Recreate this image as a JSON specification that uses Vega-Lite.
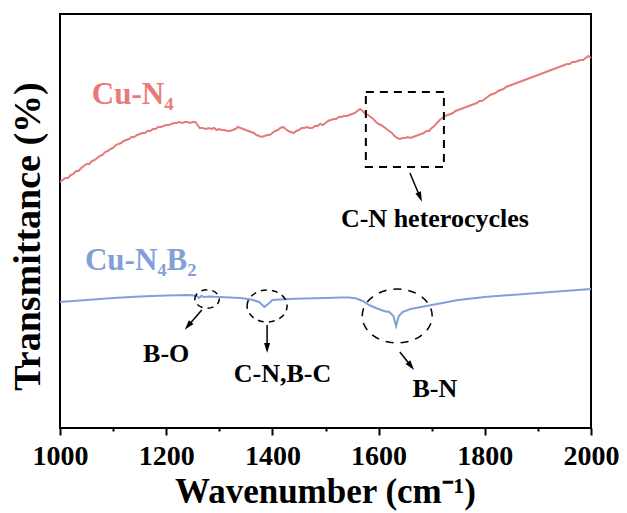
{
  "$schema": "https://vega.github.io/schema/vega-lite/v6.json",
  "autosize": {"type": "none"},
  "padding": {"left": 60, "top": 14, "right": 36, "bottom": 85},
  "width": 531,
  "height": 414,
  "background": "white",
  "config": {
    "view": {"stroke": "black", "strokeWidth": 2},
    "font": "Liberation Serif"
  },
  "datasets": {
    "spectra": [
      {"wn": 1000, "t": 246, "sample": "Cu-N4"}, {"wn": 1005, "t": 248, "sample": "Cu-N4"}, {"wn": 1010, "t": 250, "sample": "Cu-N4"}, {"wn": 1015, "t": 250, "sample": "Cu-N4"}, {"wn": 1020, "t": 253, "sample": "Cu-N4"},
      {"wn": 1025, "t": 254, "sample": "Cu-N4"}, {"wn": 1030, "t": 257, "sample": "Cu-N4"}, {"wn": 1035, "t": 257, "sample": "Cu-N4"}, {"wn": 1040, "t": 260, "sample": "Cu-N4"}, {"wn": 1045, "t": 262, "sample": "Cu-N4"},
      {"wn": 1050, "t": 264, "sample": "Cu-N4"}, {"wn": 1055, "t": 264, "sample": "Cu-N4"}, {"wn": 1060, "t": 267, "sample": "Cu-N4"}, {"wn": 1065, "t": 268, "sample": "Cu-N4"}, {"wn": 1070, "t": 270, "sample": "Cu-N4"},
      {"wn": 1075, "t": 272, "sample": "Cu-N4"}, {"wn": 1080, "t": 273, "sample": "Cu-N4"}, {"wn": 1085, "t": 276, "sample": "Cu-N4"}, {"wn": 1090, "t": 277, "sample": "Cu-N4"}, {"wn": 1095, "t": 279, "sample": "Cu-N4"},
      {"wn": 1100, "t": 280, "sample": "Cu-N4"}, {"wn": 1105, "t": 283, "sample": "Cu-N4"}, {"wn": 1110, "t": 284, "sample": "Cu-N4"}, {"wn": 1115, "t": 285, "sample": "Cu-N4"}, {"wn": 1120, "t": 287, "sample": "Cu-N4"},
      {"wn": 1125, "t": 288, "sample": "Cu-N4"}, {"wn": 1130, "t": 289, "sample": "Cu-N4"}, {"wn": 1135, "t": 291, "sample": "Cu-N4"}, {"wn": 1140, "t": 291, "sample": "Cu-N4"}, {"wn": 1145, "t": 293, "sample": "Cu-N4"},
      {"wn": 1150, "t": 294, "sample": "Cu-N4"}, {"wn": 1155, "t": 295, "sample": "Cu-N4"}, {"wn": 1160, "t": 295, "sample": "Cu-N4"}, {"wn": 1165, "t": 297, "sample": "Cu-N4"}, {"wn": 1170, "t": 297, "sample": "Cu-N4"},
      {"wn": 1175, "t": 299, "sample": "Cu-N4"}, {"wn": 1180, "t": 299, "sample": "Cu-N4"}, {"wn": 1185, "t": 301, "sample": "Cu-N4"}, {"wn": 1190, "t": 301, "sample": "Cu-N4"}, {"wn": 1195, "t": 302, "sample": "Cu-N4"},
      {"wn": 1200, "t": 303, "sample": "Cu-N4"}, {"wn": 1205, "t": 303, "sample": "Cu-N4"}, {"wn": 1210, "t": 304, "sample": "Cu-N4"}, {"wn": 1215, "t": 305, "sample": "Cu-N4"}, {"wn": 1220, "t": 305, "sample": "Cu-N4"},
      {"wn": 1225, "t": 306, "sample": "Cu-N4"}, {"wn": 1230, "t": 305, "sample": "Cu-N4"}, {"wn": 1235, "t": 306, "sample": "Cu-N4"}, {"wn": 1240, "t": 306, "sample": "Cu-N4"}, {"wn": 1245, "t": 305, "sample": "Cu-N4"},
      {"wn": 1250, "t": 306, "sample": "Cu-N4"}, {"wn": 1255, "t": 306, "sample": "Cu-N4"}, {"wn": 1259, "t": 303, "sample": "Cu-N4"}, {"wn": 1263, "t": 300, "sample": "Cu-N4"}, {"wn": 1268, "t": 300, "sample": "Cu-N4"},
      {"wn": 1275, "t": 299, "sample": "Cu-N4"}, {"wn": 1280, "t": 300, "sample": "Cu-N4"}, {"wn": 1285, "t": 299, "sample": "Cu-N4"}, {"wn": 1290, "t": 300, "sample": "Cu-N4"}, {"wn": 1295, "t": 298, "sample": "Cu-N4"},
      {"wn": 1300, "t": 299, "sample": "Cu-N4"}, {"wn": 1305, "t": 298, "sample": "Cu-N4"}, {"wn": 1310, "t": 298, "sample": "Cu-N4"}, {"wn": 1315, "t": 297, "sample": "Cu-N4"}, {"wn": 1320, "t": 297, "sample": "Cu-N4"},
      {"wn": 1325, "t": 298, "sample": "Cu-N4"}, {"wn": 1330, "t": 299, "sample": "Cu-N4"}, {"wn": 1335, "t": 301, "sample": "Cu-N4"}, {"wn": 1340, "t": 300, "sample": "Cu-N4"}, {"wn": 1345, "t": 299, "sample": "Cu-N4"},
      {"wn": 1350, "t": 298, "sample": "Cu-N4"}, {"wn": 1355, "t": 297, "sample": "Cu-N4"}, {"wn": 1360, "t": 296, "sample": "Cu-N4"}, {"wn": 1365, "t": 295, "sample": "Cu-N4"}, {"wn": 1370, "t": 293, "sample": "Cu-N4"},
      {"wn": 1375, "t": 292, "sample": "Cu-N4"}, {"wn": 1380, "t": 291, "sample": "Cu-N4"}, {"wn": 1385, "t": 292, "sample": "Cu-N4"}, {"wn": 1390, "t": 293, "sample": "Cu-N4"}, {"wn": 1395, "t": 293, "sample": "Cu-N4"},
      {"wn": 1400, "t": 295, "sample": "Cu-N4"}, {"wn": 1405, "t": 297, "sample": "Cu-N4"}, {"wn": 1410, "t": 298, "sample": "Cu-N4"}, {"wn": 1415, "t": 300, "sample": "Cu-N4"}, {"wn": 1420, "t": 301, "sample": "Cu-N4"},
      {"wn": 1425, "t": 299, "sample": "Cu-N4"}, {"wn": 1430, "t": 297, "sample": "Cu-N4"}, {"wn": 1435, "t": 296, "sample": "Cu-N4"}, {"wn": 1440, "t": 295, "sample": "Cu-N4"}, {"wn": 1445, "t": 297, "sample": "Cu-N4"},
      {"wn": 1450, "t": 298, "sample": "Cu-N4"}, {"wn": 1455, "t": 300, "sample": "Cu-N4"}, {"wn": 1460, "t": 300, "sample": "Cu-N4"}, {"wn": 1465, "t": 301, "sample": "Cu-N4"}, {"wn": 1470, "t": 300, "sample": "Cu-N4"},
      {"wn": 1475, "t": 300, "sample": "Cu-N4"}, {"wn": 1480, "t": 302, "sample": "Cu-N4"}, {"wn": 1485, "t": 302, "sample": "Cu-N4"}, {"wn": 1490, "t": 304, "sample": "Cu-N4"}, {"wn": 1495, "t": 303, "sample": "Cu-N4"},
      {"wn": 1500, "t": 305, "sample": "Cu-N4"}, {"wn": 1505, "t": 307, "sample": "Cu-N4"}, {"wn": 1510, "t": 308, "sample": "Cu-N4"}, {"wn": 1515, "t": 309, "sample": "Cu-N4"}, {"wn": 1520, "t": 309, "sample": "Cu-N4"},
      {"wn": 1525, "t": 311, "sample": "Cu-N4"}, {"wn": 1530, "t": 311, "sample": "Cu-N4"}, {"wn": 1535, "t": 312, "sample": "Cu-N4"}, {"wn": 1540, "t": 312, "sample": "Cu-N4"}, {"wn": 1545, "t": 313, "sample": "Cu-N4"},
      {"wn": 1550, "t": 314, "sample": "Cu-N4"}, {"wn": 1555, "t": 315, "sample": "Cu-N4"}, {"wn": 1560, "t": 317, "sample": "Cu-N4"}, {"wn": 1565, "t": 319, "sample": "Cu-N4"}, {"wn": 1570, "t": 317, "sample": "Cu-N4"},
      {"wn": 1575, "t": 314, "sample": "Cu-N4"}, {"wn": 1580, "t": 313, "sample": "Cu-N4"}, {"wn": 1585, "t": 311, "sample": "Cu-N4"}, {"wn": 1590, "t": 309, "sample": "Cu-N4"}, {"wn": 1595, "t": 306, "sample": "Cu-N4"},
      {"wn": 1600, "t": 304, "sample": "Cu-N4"}, {"wn": 1605, "t": 303, "sample": "Cu-N4"}, {"wn": 1610, "t": 301, "sample": "Cu-N4"}, {"wn": 1615, "t": 299, "sample": "Cu-N4"}, {"wn": 1620, "t": 297, "sample": "Cu-N4"},
      {"wn": 1625, "t": 295, "sample": "Cu-N4"}, {"wn": 1630, "t": 292, "sample": "Cu-N4"}, {"wn": 1635, "t": 290, "sample": "Cu-N4"}, {"wn": 1640, "t": 289, "sample": "Cu-N4"}, {"wn": 1645, "t": 290, "sample": "Cu-N4"},
      {"wn": 1650, "t": 290, "sample": "Cu-N4"}, {"wn": 1655, "t": 291, "sample": "Cu-N4"}, {"wn": 1660, "t": 290, "sample": "Cu-N4"}, {"wn": 1665, "t": 291, "sample": "Cu-N4"}, {"wn": 1670, "t": 292, "sample": "Cu-N4"},
      {"wn": 1675, "t": 293, "sample": "Cu-N4"}, {"wn": 1680, "t": 294, "sample": "Cu-N4"}, {"wn": 1685, "t": 295, "sample": "Cu-N4"}, {"wn": 1690, "t": 297, "sample": "Cu-N4"}, {"wn": 1695, "t": 297, "sample": "Cu-N4"},
      {"wn": 1700, "t": 300, "sample": "Cu-N4"}, {"wn": 1705, "t": 302, "sample": "Cu-N4"}, {"wn": 1710, "t": 305, "sample": "Cu-N4"}, {"wn": 1715, "t": 308, "sample": "Cu-N4"}, {"wn": 1720, "t": 310, "sample": "Cu-N4"},
      {"wn": 1725, "t": 312, "sample": "Cu-N4"}, {"wn": 1730, "t": 313, "sample": "Cu-N4"}, {"wn": 1735, "t": 314, "sample": "Cu-N4"}, {"wn": 1740, "t": 315, "sample": "Cu-N4"}, {"wn": 1745, "t": 317, "sample": "Cu-N4"},
      {"wn": 1750, "t": 318, "sample": "Cu-N4"}, {"wn": 1755, "t": 319, "sample": "Cu-N4"}, {"wn": 1760, "t": 320, "sample": "Cu-N4"}, {"wn": 1765, "t": 321, "sample": "Cu-N4"}, {"wn": 1770, "t": 322, "sample": "Cu-N4"},
      {"wn": 1775, "t": 323, "sample": "Cu-N4"}, {"wn": 1780, "t": 324, "sample": "Cu-N4"}, {"wn": 1785, "t": 325, "sample": "Cu-N4"}, {"wn": 1790, "t": 327, "sample": "Cu-N4"}, {"wn": 1795, "t": 327, "sample": "Cu-N4"},
      {"wn": 1800, "t": 329, "sample": "Cu-N4"}, {"wn": 1805, "t": 331, "sample": "Cu-N4"}, {"wn": 1810, "t": 333, "sample": "Cu-N4"}, {"wn": 1815, "t": 334, "sample": "Cu-N4"}, {"wn": 1820, "t": 335, "sample": "Cu-N4"},
      {"wn": 1825, "t": 337, "sample": "Cu-N4"}, {"wn": 1830, "t": 338, "sample": "Cu-N4"}, {"wn": 1835, "t": 339, "sample": "Cu-N4"}, {"wn": 1840, "t": 341, "sample": "Cu-N4"}, {"wn": 1845, "t": 342, "sample": "Cu-N4"},
      {"wn": 1850, "t": 343, "sample": "Cu-N4"}, {"wn": 1855, "t": 344, "sample": "Cu-N4"}, {"wn": 1860, "t": 345, "sample": "Cu-N4"}, {"wn": 1865, "t": 346, "sample": "Cu-N4"}, {"wn": 1870, "t": 347, "sample": "Cu-N4"},
      {"wn": 1875, "t": 348, "sample": "Cu-N4"}, {"wn": 1880, "t": 349, "sample": "Cu-N4"}, {"wn": 1885, "t": 350, "sample": "Cu-N4"}, {"wn": 1890, "t": 351, "sample": "Cu-N4"}, {"wn": 1895, "t": 352, "sample": "Cu-N4"},
      {"wn": 1900, "t": 353, "sample": "Cu-N4"}, {"wn": 1905, "t": 354, "sample": "Cu-N4"}, {"wn": 1910, "t": 355, "sample": "Cu-N4"}, {"wn": 1915, "t": 356, "sample": "Cu-N4"}, {"wn": 1920, "t": 357, "sample": "Cu-N4"},
      {"wn": 1925, "t": 358, "sample": "Cu-N4"}, {"wn": 1930, "t": 359, "sample": "Cu-N4"}, {"wn": 1935, "t": 360, "sample": "Cu-N4"}, {"wn": 1940, "t": 361, "sample": "Cu-N4"}, {"wn": 1945, "t": 362, "sample": "Cu-N4"},
      {"wn": 1950, "t": 363, "sample": "Cu-N4"}, {"wn": 1955, "t": 364, "sample": "Cu-N4"}, {"wn": 1960, "t": 364, "sample": "Cu-N4"}, {"wn": 1965, "t": 366, "sample": "Cu-N4"}, {"wn": 1970, "t": 366, "sample": "Cu-N4"},
      {"wn": 1975, "t": 367, "sample": "Cu-N4"}, {"wn": 1980, "t": 368, "sample": "Cu-N4"}, {"wn": 1985, "t": 368, "sample": "Cu-N4"}, {"wn": 1990, "t": 370, "sample": "Cu-N4"}, {"wn": 1995, "t": 372, "sample": "Cu-N4"},
      {"wn": 2000, "t": 370, "sample": "Cu-N4"},

      {"wn": 1000, "t": 126, "sample": "Cu-N4B2"}, {"wn": 1050, "t": 128, "sample": "Cu-N4B2"}, {"wn": 1100, "t": 130, "sample": "Cu-N4B2"},
      {"wn": 1150, "t": 131.5, "sample": "Cu-N4B2"}, {"wn": 1200, "t": 132.5, "sample": "Cu-N4B2"}, {"wn": 1240, "t": 133, "sample": "Cu-N4B2"},
      {"wn": 1255, "t": 132.5, "sample": "Cu-N4B2"}, {"wn": 1262, "t": 130, "sample": "Cu-N4B2"}, {"wn": 1266, "t": 132, "sample": "Cu-N4B2"},
      {"wn": 1272, "t": 131, "sample": "Cu-N4B2"}, {"wn": 1280, "t": 131.5, "sample": "Cu-N4B2"}, {"wn": 1300, "t": 131, "sample": "Cu-N4B2"},
      {"wn": 1340, "t": 130, "sample": "Cu-N4B2"}, {"wn": 1360, "t": 128.5, "sample": "Cu-N4B2"}, {"wn": 1375, "t": 126, "sample": "Cu-N4B2"},
      {"wn": 1385, "t": 121, "sample": "Cu-N4B2"}, {"wn": 1392, "t": 124, "sample": "Cu-N4B2"}, {"wn": 1400, "t": 128, "sample": "Cu-N4B2"},
      {"wn": 1430, "t": 129, "sample": "Cu-N4B2"}, {"wn": 1460, "t": 129.5, "sample": "Cu-N4B2"}, {"wn": 1500, "t": 130, "sample": "Cu-N4B2"},
      {"wn": 1530, "t": 130.5, "sample": "Cu-N4B2"}, {"wn": 1545, "t": 130.5, "sample": "Cu-N4B2"}, {"wn": 1558, "t": 129.5, "sample": "Cu-N4B2"},
      {"wn": 1570, "t": 127, "sample": "Cu-N4B2"}, {"wn": 1582, "t": 123, "sample": "Cu-N4B2"},
      {"wn": 1595, "t": 120, "sample": "Cu-N4B2"}, {"wn": 1610, "t": 117, "sample": "Cu-N4B2"},
      {"wn": 1620, "t": 116, "sample": "Cu-N4B2"}, {"wn": 1628, "t": 112, "sample": "Cu-N4B2"}, {"wn": 1633, "t": 102, "sample": "Cu-N4B2"},
      {"wn": 1638, "t": 112, "sample": "Cu-N4B2"}, {"wn": 1645, "t": 116, "sample": "Cu-N4B2"}, {"wn": 1660, "t": 119, "sample": "Cu-N4B2"},
      {"wn": 1680, "t": 121, "sample": "Cu-N4B2"}, {"wn": 1700, "t": 123, "sample": "Cu-N4B2"}, {"wn": 1720, "t": 125, "sample": "Cu-N4B2"},
      {"wn": 1750, "t": 128, "sample": "Cu-N4B2"}, {"wn": 1800, "t": 131, "sample": "Cu-N4B2"}, {"wn": 1850, "t": 133, "sample": "Cu-N4B2"},
      {"wn": 1900, "t": 135, "sample": "Cu-N4B2"}, {"wn": 1950, "t": 137, "sample": "Cu-N4B2"}, {"wn": 2000, "t": 139, "sample": "Cu-N4B2"}
    ],
    "arrows": [
      {"name": "CN", "wn0": 1659, "t0": 255, "wn1": 1678, "t1": 231},
      {"name": "BO", "wn0": 1267, "t0": 118, "wn1": 1241, "t1": 102},
      {"name": "CNBC", "wn0": 1390, "t0": 103, "wn1": 1390, "t1": 80},
      {"name": "BN", "wn0": 1640, "t0": 76, "wn1": 1661, "t1": 62}
    ],
    "heads": [
      {"name": "CN", "wn": 1678, "t": 231},
      {"name": "BO", "wn": 1241, "t": 102},
      {"name": "CNBC", "wn": 1390, "t": 80},
      {"name": "BN", "wn": 1661, "t": 62}
    ],
    "bands": [
      {"name": "BO", "wn": 1277, "t": 129},
      {"name": "CNBC", "wn": 1390, "t": 122},
      {"name": "BN", "wn": 1635, "t": 112}
    ],
    "labels": [
      {"text": "C-N heterocycles", "wn": 1706, "t": 201},
      {"text": "B-O", "wn": 1200, "t": 66},
      {"text": "C-N,B-C", "wn": 1419, "t": 46},
      {"text": "B-N", "wn": 1706, "t": 31}
    ]
  },
  "layer": [
    {
      "data": {"name": "spectra"},
      "mark": {"type": "line", "strokeWidth": 2, "interpolate": "linear"},
      "encoding": {
        "x": {
          "field": "wn", "type": "quantitative",
          "scale": {"domain": [1000, 2000], "nice": false, "zero": false},
          "axis": {
            "orient": "bottom",
            "values": [1000, 1100, 1200, 1300, 1400, 1500, 1600, 1700, 1800, 1900, 2000],
            "format": "d",
            "labelExpr": "datum.value % 200 === 0 ? datum.label : ''",
            "labelFlush": false,
            "labelOverlap": false,
            "labelBound": false,
            "labelFont": "Liberation Serif",
            "labelFontWeight": "bold",
            "labelFontSize": 28,
            "labelColor": "black",
            "labelPadding": 7,
            "domain": false,
            "grid": false,
            "ticks": true,
            "tickColor": "black",
            "tickWidth": 2,
            "tickSize": {"condition": {"test": "datum.value % 200 === 0", "value": 7}, "value": 3},
            "title": "Wavenumber (cm⁻¹)",
            "titleFont": "Liberation Serif",
            "titleFontWeight": "bold",
            "titleFontSize": 35,
            "titleColor": "black",
            "titleX": 265,
            "titleY": 74,
            "titleAlign": "center",
            "titleBaseline": "alphabetic"
          }
        },
        "y": {
          "field": "t", "type": "quantitative",
          "scale": {"domain": [0, 414], "nice": false, "zero": false},
          "axis": {
            "labels": false,
            "ticks": false,
            "domain": false,
            "grid": false,
            "title": "Transmittance (%)",
            "titleFont": "Liberation Serif",
            "titleFontWeight": "bold",
            "titleFontSize": 38,
            "titleColor": "black",
            "titleAngle": -90,
            "titleX": -32,
            "titleY": 222,
            "titleAlign": "center",
            "titleBaseline": "middle"
          }
        },
        "color": {
          "field": "sample", "type": "nominal",
          "scale": {"domain": ["Cu-N4", "Cu-N4B2"], "range": ["#e87a7a", "#82a0d6"]},
          "legend": null
        },
        "detail": {"field": "sample"}
      }
    },
    {
      "data": {"values": [{"text": "Cu-N₄", "wn": 1060, "t": 324}]},
      "mark": {"type": "text", "align": "left", "baseline": "alphabetic", "font": "Liberation Serif", "fontWeight": "bold", "fontSize": 31, "color": "#e87a7a"},
      "encoding": {"x": {"field": "wn", "type": "quantitative"}, "y": {"field": "t", "type": "quantitative"}, "text": {"field": "text"}}
    },
    {
      "data": {"values": [{"text": "Cu-N₄B₂", "wn": 1047, "t": 158}]},
      "mark": {"type": "text", "align": "left", "baseline": "alphabetic", "font": "Liberation Serif", "fontWeight": "bold", "fontSize": 31, "color": "#82a0d6"},
      "encoding": {"x": {"field": "wn", "type": "quantitative"}, "y": {"field": "t", "type": "quantitative"}, "text": {"field": "text"}}
    },
    {
      "data": {"values": [{"wn0": 1576, "wn1": 1723, "t0": 261, "t1": 336}]},
      "mark": {"type": "rect", "fill": null, "stroke": "black", "strokeWidth": 2, "strokeDash": [8, 6]},
      "encoding": {
        "x": {"field": "wn0", "type": "quantitative"}, "x2": {"field": "wn1"},
        "y": {"field": "t0", "type": "quantitative"}, "y2": {"field": "t1"}
      }
    },
    {
      "data": {"name": "bands"},
      "transform": [{"filter": "datum.name === 'BO'"}],
      "mark": {"type": "point", "shape": "M-1,0A1,0.75,0,1,1,1,0A1,0.75,0,1,1,-1,0Z", "size": 600, "filled": false, "stroke": "black", "strokeWidth": 1.5, "strokeDash": [6, 5], "opacity": 1},
      "encoding": {"x": {"field": "wn", "type": "quantitative"}, "y": {"field": "t", "type": "quantitative"}}
    },
    {
      "data": {"name": "bands"},
      "transform": [{"filter": "datum.name === 'CNBC'"}],
      "mark": {"type": "point", "shape": "M-1,0A1,0.8,0,1,1,1,0A1,0.8,0,1,1,-1,0Z", "size": 1600, "filled": false, "stroke": "black", "strokeWidth": 1.5, "strokeDash": [6, 5], "opacity": 1},
      "encoding": {"x": {"field": "wn", "type": "quantitative"}, "y": {"field": "t", "type": "quantitative"}}
    },
    {
      "data": {"name": "bands"},
      "transform": [{"filter": "datum.name === 'BN'"}],
      "mark": {"type": "point", "shape": "M-1,0A1,0.77,0,1,1,1,0A1,0.77,0,1,1,-1,0Z", "size": 4900, "filled": false, "stroke": "black", "strokeWidth": 1.5, "strokeDash": [8, 7], "opacity": 1},
      "encoding": {"x": {"field": "wn", "type": "quantitative"}, "y": {"field": "t", "type": "quantitative"}}
    },
    {
      "data": {"name": "arrows"},
      "mark": {"type": "rule", "color": "black", "strokeWidth": 1.5},
      "encoding": {
        "x": {"field": "wn0", "type": "quantitative"}, "x2": {"field": "wn1"},
        "y": {"field": "t0", "type": "quantitative"}, "y2": {"field": "t1"}
      }
    },
    {
      "data": {"name": "heads"},
      "transform": [{"filter": "datum.name === 'CN'"}],
      "mark": {"type": "point", "shape": "M-0.6,-1L0.6,-1L0,1Z", "size": 100, "filled": true, "color": "black", "opacity": 1, "angle": 338},
      "encoding": {"x": {"field": "wn", "type": "quantitative"}, "y": {"field": "t", "type": "quantitative"}}
    },
    {
      "data": {"name": "heads"},
      "transform": [{"filter": "datum.name === 'BO'"}],
      "mark": {"type": "point", "shape": "M-0.6,-1L0.6,-1L0,1Z", "size": 100, "filled": true, "color": "black", "opacity": 1, "angle": 40},
      "encoding": {"x": {"field": "wn", "type": "quantitative"}, "y": {"field": "t", "type": "quantitative"}}
    },
    {
      "data": {"name": "heads"},
      "transform": [{"filter": "datum.name === 'CNBC'"}],
      "mark": {"type": "point", "shape": "M-0.6,-1L0.6,-1L0,1Z", "size": 100, "filled": true, "color": "black", "opacity": 1, "angle": 0},
      "encoding": {"x": {"field": "wn", "type": "quantitative"}, "y": {"field": "t", "type": "quantitative"}}
    },
    {
      "data": {"name": "heads"},
      "transform": [{"filter": "datum.name === 'BN'"}],
      "mark": {"type": "point", "shape": "M-0.6,-1L0.6,-1L0,1Z", "size": 100, "filled": true, "color": "black", "opacity": 1, "angle": 322},
      "encoding": {"x": {"field": "wn", "type": "quantitative"}, "y": {"field": "t", "type": "quantitative"}}
    },
    {
      "data": {"name": "labels"},
      "mark": {"type": "text", "align": "center", "baseline": "alphabetic", "font": "Liberation Serif", "fontWeight": "bold", "fontSize": 26, "color": "black"},
      "encoding": {"x": {"field": "wn", "type": "quantitative"}, "y": {"field": "t", "type": "quantitative"}, "text": {"field": "text"}}
    }
  ]
}
